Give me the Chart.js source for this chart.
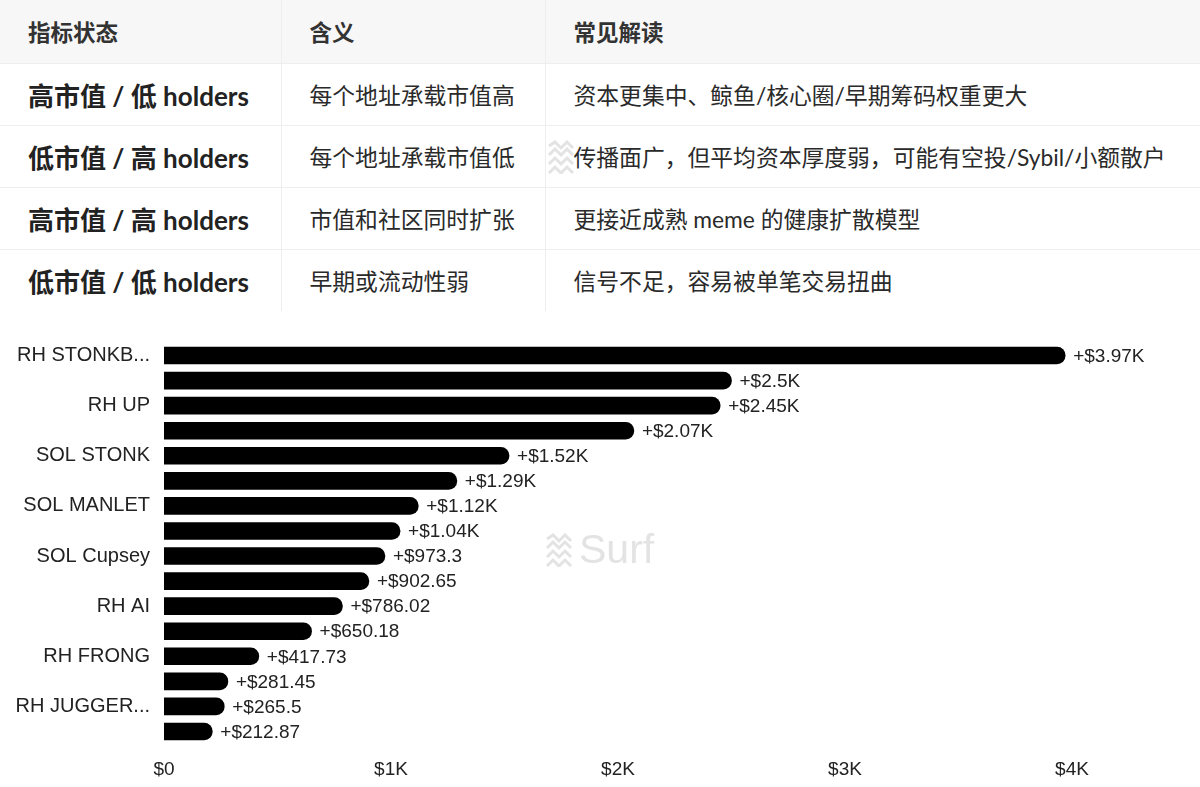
<!DOCTYPE html>
<html>
<head>
<meta charset="utf-8">
<script src="https://cdn.jsdelivr.net/npm/chart.js@4.4.1/dist/chart.umd.min.js"></script>
<style>
  html, body { margin:0; padding:0; background:#fff; }
  body { width:1200px; height:787px; position:relative; overflow:hidden; font-family:Lato,"Noto Sans CJK SC",sans-serif; color:#222; }
  table { position:absolute; left:0; top:0; width:1200px; border-collapse:collapse; table-layout:fixed; }
  th, td { text-align:left; padding:0 0 0 28px; border-right:1px solid #eeeeee; border-bottom:1px solid #eeeeee; white-space:nowrap; }
  th:last-child, td:last-child { border-right:none; }
  thead tr { height:63px; }
  tbody tr { height:62px; }
  tbody tr:last-child td { border-bottom:none; }
  th { background:#f7f7f7; font-size:22.5px; font-weight:700; color:#333; }
  td { font-size:22.8px; color:#2a2a2a; }
  td.k { font-size:26px; font-weight:700; color:#222; }
  .wm { position:absolute; display:flex; align-items:center; gap:4px; color:#e3e3e3; font-family:"Liberation Sans",Arial,sans-serif; font-size:41px; pointer-events:none; }
  #wrap { position:absolute; left:0; top:317px; width:1200px; height:470px; }
</style>
</head>
<body>

<table>
  <colgroup><col style="width:281px"><col style="width:264px"><col style="width:655px"></colgroup>
  <thead>
    <tr><th>指标状态</th><th>含义</th><th>常见解读</th></tr>
  </thead>
  <tbody>
    <tr><td class="k">高市值 / 低 holders</td><td>每个地址承载市值高</td><td>资本更集中、鲸鱼/核心圈/早期筹码权重更大</td></tr>
    <tr><td class="k">低市值 / 高 holders</td><td>每个地址承载市值低</td><td>传播面广，但平均资本厚度弱，可能有空投/Sybil/小额散户</td></tr>
    <tr><td class="k">高市值 / 高 holders</td><td>市值和社区同时扩张</td><td>更接近成熟 meme 的健康扩散模型</td></tr>
    <tr><td class="k">低市值 / 低 holders</td><td>早期或流动性弱</td><td>信号不足，容易被单笔交易扭曲</td></tr>
  </tbody>
</table>

<div class="wm" style="left:547px; top:140px; opacity:0.7">
  <svg width="30" height="34" viewBox="0 0 30 34"><g fill="none" stroke="#d8d8d8" stroke-width="3"><polyline points="2,6 8,2 14,8 20,2 26,8"/><polyline points="2,15 8,9 14,15 20,9 26,15"/><polyline points="2,24 8,18 14,24 20,18 26,24"/><polyline points="2,33 8,27 14,33 20,27 26,33"/></g></svg>
</div>

<div id="wrap"><canvas id="chartPnl"></canvas></div>

<div class="wm" style="left:545px; top:526px">
  <svg width="30" height="34" viewBox="0 0 30 34"><g fill="none" stroke="#e3e3e3" stroke-width="3"><polyline points="2,6 8,2 14,8 20,2 26,8"/><polyline points="2,15 8,9 14,15 20,9 26,15"/><polyline points="2,24 8,18 14,24 20,18 26,24"/><polyline points="2,33 8,27 14,33 20,27 26,33"/></g></svg>
  <span>Surf</span>
</div>

<script>
// ── data ──
const categories = ['RH STONKB...', '', 'RH UP', '', 'SOL STONK', '', 'SOL MANLET', '', 'SOL Cupsey', '', 'RH AI', '', 'RH FRONG', '', 'RH JUGGER...', ''];
const pnl        = [3970, 2500, 2450, 2070, 1520, 1290, 1120, 1040, 973.3, 902.65, 786.02, 650.18, 417.73, 281.45, 265.5, 212.87];
const xTicks     = [0, 1000, 2000, 3000, 4000];

const FONT = '"Liberation Sans", Arial, Helvetica, sans-serif';

function fmtK(v) {
  return v === 0 ? '$0' : '$' + (v / 1000) + 'K';
}
function fmtPnl(v) {
  return v >= 1000 ? '+$' + (+(v / 1000).toFixed(2)) + 'K' : '+$' + (+v.toFixed(2));
}

// value labels at bar ends
const valueLabels = {
  id: 'valueLabels',
  afterDatasetsDraw(chart) {
    const ctx  = chart.ctx;
    const meta = chart.getDatasetMeta(0);
    ctx.save();
    ctx.font = '19px ' + FONT;
    ctx.fillStyle = '#222';
    ctx.textBaseline = 'middle';
    ctx.textAlign = 'left';
    meta.data.forEach((bar, i) => ctx.fillText(fmtPnl(pnl[i]), bar.x + 8, bar.y + 1));
    ctx.restore();
  }
};

new Chart(document.getElementById('chartPnl'), {
  type: 'bar',
  data: {
    labels: categories,
    datasets: [{ data: pnl, backgroundColor: '#000', borderRadius: 9, barThickness: 17 }]
  },
  options: {
    indexAxis: 'y',
    responsive: true, maintainAspectRatio: false,
    animation: false,
    layout: { padding: { top: 0, right: 128, bottom: 0, left: 0 } },
    plugins: { legend: { display: false }, tooltip: { enabled: false } },
    scales: {
      x: {
        min: 0, max: 4000,
        afterFit: s => { s.height = 43; },
        afterBuildTicks: s => { s.ticks = xTicks.map(v => ({ value: v })); },
        grid: { display: false, drawTicks: false },
        border: { display: false },
        ticks: { color: '#222', padding: 14, font: { family: FONT, size: 19 }, callback: v => fmtK(v) }
      },
      y: {
        afterFit: s => { s.width = 164; },
        grid: { display: false, drawTicks: false },
        border: { display: false },
        ticks: { color: '#222', padding: 14, autoSkip: false, font: { family: FONT, size: 20 } }
      }
    }
  },
  plugins: [valueLabels]
});
</script>
</body>
</html>
